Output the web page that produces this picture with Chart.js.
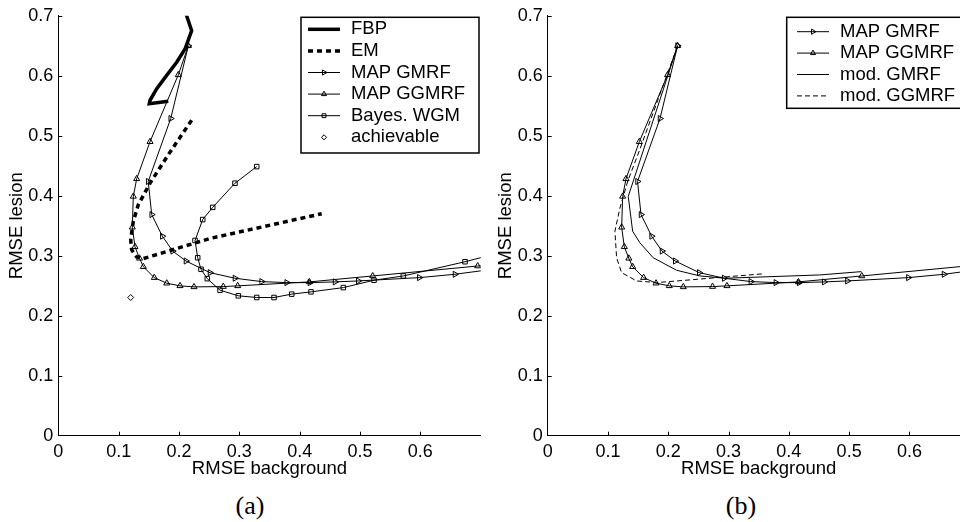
<!DOCTYPE html>
<html>
<head>
<meta charset="utf-8">
<script src="https://cdn.jsdelivr.net/npm/chart.js@4.4.1/dist/chart.umd.min.js"></script>
<style>
  html, body { margin: 0; padding: 0; background: #fff; overflow: hidden; }
  #wrap { position: relative; width: 960px; height: 522px; overflow: hidden; background: #fff; }
  canvas { position: absolute; top: 0; }
  #chartA { left: 0; }
  #chartB { left: 489px; }
  .cap { position: absolute; top: 493px; width: 60px; text-align: center; line-height: 26px;
         font-family: "Liberation Serif", "Times New Roman", serif; font-size: 26px; color: #000; }
</style>
</head>
<body>
<div id="wrap">
  <canvas id="chartA" width="500" height="480"></canvas>
  <canvas id="chartB" width="500" height="480"></canvas>
  <div class="cap" style="left:220px">(a)</div>
  <div class="cap" style="left:711px">(b)</div>
</div>
<script>
// ---- data (RMSE background, RMSE lesion) ----
const xTicks = [0, 0.1, 0.2, 0.3, 0.4, 0.5, 0.6];
const yTicks = [0, 0.1, 0.2, 0.3, 0.4, 0.5, 0.6, 0.7];

const fbpX = [0.206, 0.2127, 0.221, 0.210, 0.1962, 0.1796, 0.1631, 0.152, 0.1508, 0.1823];
const fbpY = [0.720, 0.700, 0.6752, 0.6447, 0.6226, 0.6006, 0.5784, 0.5592, 0.5535, 0.5575];

const emX = [0.221, 0.182, 0.152, 0.1326, 0.1243, 0.120, 0.1215, 0.130, 0.140, 0.2514, 0.4365];
const emY = [0.526, 0.468, 0.421, 0.385, 0.3575, 0.327, 0.310, 0.298, 0.295, 0.3288, 0.370];

const gmrfX = [0.2155, 0.1863, 0.149, 0.1548, 0.1724, 0.1896, 0.2116, 0.2514, 0.2928, 0.337,
               0.3785, 0.4171, 0.4586, 0.4972, 0.5983, 0.6574, 0.72];
const gmrfY = [0.650, 0.5287, 0.4238, 0.3686, 0.3326, 0.3078, 0.2912, 0.2718, 0.2625, 0.2569,
               0.2552, 0.2552, 0.2564, 0.258, 0.2635, 0.2691, 0.2775];

const ggmrfX = [0.2155, 0.1989, 0.152, 0.1299, 0.1243, 0.1227, 0.1271, 0.1346, 0.1409, 0.1591,
                0.1797, 0.2017, 0.2249, 0.2734, 0.2973, 0.416, 0.521, 0.695, 0.72];
const ggmrfY = [0.650, 0.6016, 0.4901, 0.4282, 0.3989, 0.3475, 0.3149, 0.2957, 0.2817, 0.2635,
                0.2542, 0.2498, 0.2481, 0.2486, 0.2498, 0.2564, 0.2663, 0.2829, 0.285];

const wgmX = [0.3288, 0.2928, 0.2559, 0.2393, 0.2266, 0.231, 0.2365, 0.2469, 0.268, 0.2983,
              0.3288, 0.3575, 0.3868, 0.4188, 0.4724, 0.5232, 0.5718, 0.674, 0.72];
const wgmY = [0.4486, 0.4209, 0.3807, 0.3603, 0.3255, 0.2967, 0.2774, 0.2618, 0.2426, 0.2332,
              0.2304, 0.2304, 0.236, 0.2398, 0.2469, 0.2592, 0.2663, 0.290, 0.302];

const bestX = [0.12];
const bestY = [0.2304];

const modGmrfX = [0.2155, 0.1336, 0.1409, 0.153, 0.175, 0.2138, 0.2524, 0.2939, 0.4513, 0.5203];
const modGmrfY = [0.650, 0.3989, 0.3409, 0.3215, 0.2967, 0.2758, 0.2663, 0.2625, 0.268, 0.2735];

const modGgmrfX = [0.2155, 0.152, 0.133, 0.1198, 0.1115, 0.1143, 0.1226, 0.1475, 0.1806, 0.2413, 0.3601];
const modGgmrfY = [0.650, 0.475, 0.425, 0.3795, 0.3409, 0.2967, 0.2718, 0.258, 0.2552, 0.2602, 0.2701];

const family = '"Liberation Sans", Arial, Helvetica, sans-serif';

function pts(xs, ys) {
    return xs.map((x, i) => ({ x: x, y: ys[i] }));
}

function lineSet(label, xs, ys, width, dash) {
    return {
        label: label, data: pts(xs, ys), showLine: true,
        borderColor: '#000', borderWidth: width, borderDash: dash || [],
        pointRadius: 0, backgroundColor: 'transparent'
    };
}

function markSet(label, xs, ys, style, rot, r, line) {
    return {
        label: label, data: pts(xs, ys), showLine: line,
        borderColor: '#000', borderWidth: 1,
        pointStyle: style, pointRotation: rot, pointRadius: r,
        pointBorderColor: '#000', pointBorderWidth: 1,
        pointBackgroundColor: 'transparent', backgroundColor: 'transparent'
    };
}

function fmt(v) {
    return v === 0 ? '0' : v.toFixed(1);
}

function makeScales(yWidth) {
    return {
        x: {
            type: 'linear', min: 0, max: 0.7,
            afterBuildTicks: s => { s.ticks = xTicks.map(v => ({ value: v })); },
            afterFit: s => { s.height = 44.3; },
            grid: { display: false, drawTicks: false },
            border: { display: true, color: '#000', width: 1 },
            ticks: { color: '#000', font: { family: family, size: 18 }, padding: 6,
                     maxRotation: 0, autoSkip: false, callback: v => fmt(v) },
            title: { display: true, text: 'RMSE background', color: '#000',
                     font: { family: family, size: 18.5 }, padding: { top: 0, bottom: 0 } }
        },
        y: {
            type: 'linear', min: 0, max: 0.7,
            afterBuildTicks: s => { s.ticks = yTicks.map(v => ({ value: v })); },
            afterFit: s => { s.width = yWidth; },
            grid: { display: false, drawTicks: false },
            border: { display: true, color: '#000', width: 1 },
            ticks: { color: '#000', font: { family: family, size: 18 }, padding: 5,
                     autoSkip: false, callback: v => fmt(v) },
            title: { display: true, text: 'RMSE lesion', color: '#000',
                     font: { family: family, size: 18.5 }, padding: { top: 6, bottom: 0 } }
        }
    };
}

// tick marks drawn inward, MATLAB style
const inTicks = {
    id: 'inTicks',
    afterDatasetsDraw(chart) {
        const ctx = chart.ctx, xs = chart.scales.x, ys = chart.scales.y, a = chart.chartArea;
        ctx.save();
        ctx.strokeStyle = '#000';
        ctx.lineWidth = 1;
        ctx.beginPath();
        xs.ticks.forEach(t => {
            if (t.value === 0) return;
            const p = Math.round(xs.getPixelForValue(t.value)) + 0.5;
            ctx.moveTo(p, a.bottom);
            ctx.lineTo(p, a.bottom - 4);
        });
        ys.ticks.forEach(t => {
            if (t.value === 0) return;
            const p = Math.round(ys.getPixelForValue(t.value)) + 0.5;
            ctx.moveTo(a.left, p);
            ctx.lineTo(a.left + 4, p);
        });
        ctx.stroke();
        ctx.restore();
    }
};

// boxed legend inside the axes
const boxLegend = {
    id: 'boxLegend',
    afterDraw(chart, args, o) {
        const ctx = chart.ctx;
        ctx.save();
        ctx.fillStyle = '#fff';
        ctx.fillRect(o.left, o.top, o.width, o.height);
        ctx.strokeStyle = '#000';
        ctx.lineWidth = 1.5;
        ctx.strokeRect(o.left, o.top, o.width, o.height);
        chart.data.datasets.forEach((ds, i) => {
            const y = o.top + o.first + i * o.step;
            const x0 = o.left + o.lineFrom, x1 = o.left + o.lineTo;
            if (ds.showLine) {
                ctx.beginPath();
                ctx.setLineDash(ds.borderDash || []);
                ctx.lineWidth = ds.borderWidth;
                ctx.strokeStyle = '#000';
                ctx.moveTo(x0, y);
                ctx.lineTo(x1, y);
                ctx.stroke();
                ctx.setLineDash([]);
            }
            if (ds.pointRadius > 0) {
                ctx.fillStyle = 'rgba(0,0,0,0)';
                ctx.strokeStyle = '#000';
                ctx.lineWidth = 1;
                Chart.helpers.drawPoint(ctx, {
                    pointStyle: ds.pointStyle, radius: ds.pointRadius * 0.85,
                    rotation: ds.pointRotation || 0, borderWidth: 1
                }, (x0 + x1) / 2, y);
            }
            ctx.fillStyle = '#000';
            ctx.font = '18.5px ' + family;
            ctx.textBaseline = 'middle';
            ctx.textAlign = 'left';
            ctx.fillText(ds.label, o.left + o.textAt, y);
        });
        ctx.restore();
    }
};

function makeChart(id, datasets, yWidth, legendOpts) {
    return new Chart(document.getElementById(id), {
        type: 'scatter',
        data: { datasets: datasets },
        options: {
            responsive: false,
            animation: false,
            events: [],
            layout: { padding: { top: 13.3, right: 19.3, left: 0, bottom: 0 } },
            scales: makeScales(yWidth),
            plugins: {
                legend: { display: false },
                tooltip: { enabled: false },
                boxLegend: legendOpts
            }
        },
        plugins: [inTicks, boxLegend]
    });
}

makeChart('chartA', [
    lineSet('FBP', fbpX, fbpY, 3.5),
    lineSet('EM', emX, emY, 3.5, [5, 4]),
    markSet('MAP GMRF', gmrfX, gmrfY, 'triangle', 90, 3.5, true),
    markSet('MAP GGMRF', ggmrfX, ggmrfY, 'triangle', 0, 3.5, true),
    markSet('Bayes. WGM', wgmX, wgmY, 'rect', 0, 3.2, true),
    markSet('achievable', bestX, bestY, 'rectRot', 0, 3, false)
], 58.3, { left: 301, top: 17.3, width: 178, height: 135.7, first: 12, step: 21.6,
           lineFrom: 7, lineTo: 39, textAt: 50 });

makeChart('chartB', [
    markSet('MAP GMRF', gmrfX, gmrfY, 'triangle', 90, 3.5, true),
    markSet('MAP GGMRF', ggmrfX, ggmrfY, 'triangle', 0, 3.5, true),
    lineSet('mod. GMRF', modGmrfX, modGmrfY, 1),
    lineSet('mod. GGMRF', modGgmrfX, modGgmrfY, 1, [5, 3])
], 58.7, { left: 297.7, top: 17.3, width: 180, height: 91, first: 14.4, step: 21.4,
           lineFrom: 10.3, lineTo: 42.3, textAt: 53.3 });
</script>
</body>
</html>
